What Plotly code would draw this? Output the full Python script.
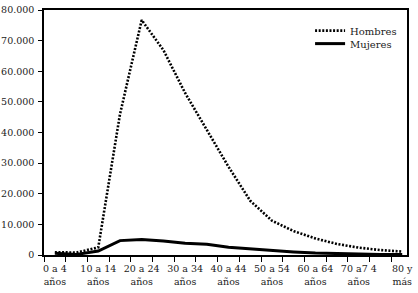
import plotly.graph_objects as go

grupos = ["0 a 4", "5 a 9", "10 a 14", "15 a 19", "20 a 24", "25 a 29", "30 a 34",
          "35 a 39", "40 a 44", "45 a 49", "50 a 54", "55 a 59", "60 a 64",
          "65 a 69", "70 a7 4", "75 a 79", "80 y"]
segunda_linea = ["años"] * 16 + ["más"]

hombres = [900, 800, 2500, 46000, 76700, 66900, 52900, 40800, 28800, 17700,
           11200, 7800, 5400, 3600, 2400, 1600, 1100]
mujeres = [550, 200, 1300, 4700, 5100, 4600, 3800, 3500, 2500, 1950,
           1400, 1000, 650, 400, 300, 200, 200]

y_ticks = [0, 10000, 20000, 30000, 40000, 50000, 60000, 70000, 80000]

idx = list(range(len(grupos)))
label_idx = idx[::2]
label_txt = [grupos[i] + "<br>" + segunda_linea[i] for i in label_idx]

font_main = "DejaVu Serif"

fig = go.Figure()
fig.add_trace(go.Scatter(x=idx, y=hombres, mode="lines", name="Hombres",
                         line=dict(color="black", width=2.6, dash="2px,1.6px"),
                         legend="legend"))
fig.add_trace(go.Scatter(x=idx, y=mujeres, mode="lines", name="Mujeres",
                         line=dict(color="black", width=3),
                         legend="legend2"))

leg_common = dict(xanchor="left", yanchor="top", bgcolor="rgba(0,0,0,0)",
                  borderwidth=0, font=dict(family=font_main, size=10, color="#222"),
                  itemwidth=30)

fig.update_layout(
    width=418, height=293,
    margin=dict(l=44, r=11, t=10, b=38, autoexpand=False),
    paper_bgcolor="white", plot_bgcolor="white",
    separators=",.",
    showlegend=True,
    legend=dict(x=0.733, y=0.975, **leg_common),
    legend2=dict(x=0.733, y=0.922, **leg_common),
    xaxis=dict(
        range=[-0.5, 16.22], tickmode="array", tickvals=label_idx, ticktext=label_txt,
        ticks="", showgrid=False, zeroline=False, automargin=False,
        ticklabelstandoff=4,
        showline=True, linecolor="black", linewidth=1.5, mirror=True,
        tickfont=dict(family=font_main, size=9.5, color="#222"),
        minor=dict(tickmode="linear", tick0=-0.5, dtick=1, ticks="outside",
                   ticklen=5, tickwidth=1, tickcolor="black", showgrid=False),
    ),
    yaxis=dict(
        range=[0, 80000], tickmode="array", tickvals=y_ticks, tickformat=",d",
        ticks="outside", ticklen=4, tickwidth=1, tickcolor="black",
        showgrid=False, zeroline=False, automargin=False,
        ticklabelstandoff=2,
        showline=True, linecolor="black", linewidth=1.5, mirror=True,
        tickfont=dict(family=font_main, size=9.5, color="#222"),
    ),
)

fig.write_html("out.html")
